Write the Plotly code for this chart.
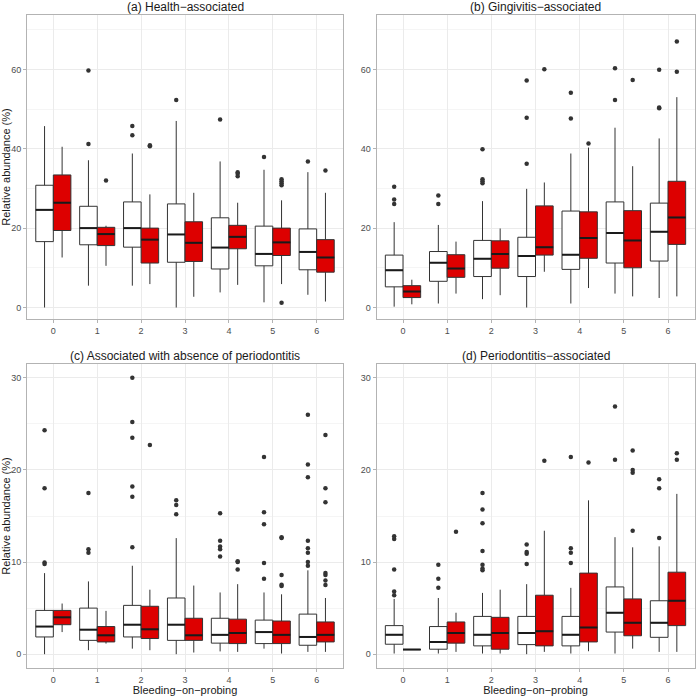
import plotly.graph_objects as go
from plotly.subplots import make_subplots

bop = [0, 1, 2, 3, 4, 5, 6]  ## bleeding-on-probing score

# per score: (lower whisker, q1, median, q3, upper whisker)
a_white = [(0.0, 16.6, 24.6, 30.8, 45.7), (5.5, 15.8, 20.0, 25.5, 37.1), (5.5, 15.2, 20.0, 26.6, 38.8),
           (0.0, 11.4, 18.4, 26.1, 47.0), (3.8, 9.7, 15.1, 22.6, 36.8), (1.3, 10.5, 13.5, 20.5, 34.7),
           (3.2, 9.5, 14.0, 19.8, 34.1)]
a_red = [(12.6, 19.4, 26.4, 33.4, 40.5), (10.5, 15.6, 18.5, 20.2, 20.6), (5.9, 11.2, 17.1, 20.0, 28.5),
         (2.7, 11.6, 16.3, 21.6, 28.9), (5.7, 14.8, 17.8, 20.7, 26.4), (5.9, 13.1, 16.4, 20.0, 27.0),
         (1.5, 8.9, 12.6, 17.1, 28.9)]
a_white_out = [[], [41.2, 59.7], [43.4, 45.7], [52.3], [47.4], [37.9], [36.8]]
a_red_out = [[], [32.0], [40.6, 40.9], [], [33.1, 33.7, 34.1], [1.2, 30.8, 31.3, 31.8, 32.3], [34.5]]

b_white = [(0.2, 5.2, 9.4, 13.2, 21.5), (1.0, 6.6, 11.3, 14.1, 20.8), (2.1, 7.8, 12.3, 16.9, 26.8),
           (0.0, 7.8, 13.0, 17.7, 29.9), (1.0, 9.6, 13.3, 24.3, 38.8), (3.5, 11.2, 18.8, 26.6, 45.3),
           (2.4, 11.7, 19.1, 26.3, 42.6)]
b_red = [(0.8, 2.5, 4.0, 5.5, 7.0), (3.5, 7.6, 9.8, 13.3, 16.6), (3.1, 9.9, 13.5, 16.8, 19.9),
         (9.0, 13.2, 15.2, 25.6, 31.5), (4.9, 12.4, 17.5, 24.1, 40.3), (2.8, 10.0, 16.9, 24.4, 35.6),
         (2.8, 15.9, 22.7, 31.8, 53.0)]
b_white_out = [[26.1, 27.2, 30.4], [26.1, 28.2], [31.3, 31.8, 32.3, 39.9], [36.2, 47.8, 57.2],
               [47.6, 54.1], [52.3, 60.3], [50.2, 50.4, 59.9]]
b_red_out = [[], [], [], [60.0], [41.3], [57.3], [59.4, 67.0]]

c_white = [(0.0, 1.87, 3.0, 4.75, 8.8), (0.43, 1.5, 2.66, 5.0, 7.9), (0.6, 1.87, 3.2, 5.3, 9.6),
           (0.0, 1.5, 3.2, 6.1, 12.6), (0.3, 1.2, 2.1, 3.9, 6.7), (0.6, 1.15, 2.4, 3.7, 6.7),
           (0.25, 0.97, 1.87, 4.35, 9.1)]
c_red = [(2.4, 3.2, 4.0, 4.75, 5.5), (1.15, 1.33, 2.05, 3.0, 4.7), (0.43, 1.7, 2.7, 5.2, 7.0),
         (0.18, 1.5, 2.05, 3.9, 7.45), (0.25, 1.15, 2.3, 3.8, 7.6), (0.07, 1.15, 2.1, 3.6, 6.5),
         (0.25, 1.33, 2.1, 3.5, 6.1)]
c_white_out = [[9.8, 9.96, 18.0, 24.3], [11.0, 11.4, 17.5], [11.6, 17.1, 18.2, 23.5, 25.2, 30.0],
               [15.2, 16.2, 16.7], [10.6, 11.4, 11.7, 12.3, 15.3], [8.2, 9.9, 14.1, 15.4, 21.4],
               [9.6, 10.0, 11.0, 11.5, 12.3, 19.2, 20.6, 26.0]]
c_red_out = [[], [], [22.7], [], [9.2, 10.0, 10.1], [7.4, 7.55, 8.6, 12.6, 12.7],
             [7.5, 8.0, 8.6, 8.8, 16.5, 18.0, 23.8]]

d_white = [(0.07, 1.08, 2.1, 3.1, 6.0), (0.07, 0.54, 1.33, 3.0, 6.1), (0.07, 0.9, 2.1, 4.1, 6.65),
           (0.0, 1.04, 2.3, 4.1, 7.6), (0.07, 0.9, 2.1, 4.1, 7.2), (0.07, 2.4, 4.5, 7.3, 12.7),
           (0.25, 1.83, 3.4, 5.8, 11.7)]
d_red = [(0.5, 0.5, 0.5, 0.5, 0.5), (0.25, 1.2, 2.3, 3.5, 4.5), (0.07, 0.54, 2.3, 4.0, 7.0),
         (0.25, 0.9, 2.5, 6.4, 13.4), (0.32, 1.33, 2.9, 8.8, 16.7), (0.6, 2.0, 3.4, 6.0, 11.6),
         (0.25, 3.1, 5.8, 8.9, 17.4)]
d_white_out = [[6.4, 6.8, 9.2, 12.5, 12.8], [7.2, 8.2, 9.7], [9.1, 9.3, 9.7, 11.2, 14.2, 15.7, 17.5],
               [9.8, 10.9, 11.1, 11.9], [9.9, 11.0, 11.5, 21.4], [21.1, 26.9], [12.6, 18.0, 19.0]]
d_red_out = [[], [13.3], [], [21.0], [20.8], [13.4, 19.7, 20.0, 22.1], [21.1, 21.8]]

titles = ['(a) Health−associated', '(b) Gingivitis−associated',
          '(c) Associated with absence of periodontitis', '(d) Periodontitis−associated']

RED = '#dd0000'
EDGE = '#333333'
DODGE = 0.2
BOXW = 0.4


def add_group(fig, stats, outs, side, fill, row, col):
    xs = [b + side * DODGE for b in bop]
    fig.add_trace(go.Box(x=xs, lowerfence=[s[0] for s in stats], q1=[s[1] for s in stats],
                         median=[s[2] for s in stats], q3=[s[3] for s in stats],
                         upperfence=[s[4] for s in stats], width=BOXW, whiskerwidth=0,
                         fillcolor=fill, line=dict(color=EDGE, width=1), boxpoints=False,
                         showlegend=False, hoverinfo='skip'), row=row, col=col)
    # thicker median bar, like ggplot
    mx, my = [], []
    for x, s in zip(xs, stats):
        mx += [x - BOXW / 2, x + BOXW / 2, None]
        my += [s[2], s[2], None]
    fig.add_trace(go.Scatter(x=mx, y=my, mode='lines', line=dict(color='#1a1a1a', width=2),
                             showlegend=False, hoverinfo='skip'), row=row, col=col)
    ox, oy = [], []
    for x, o in zip(xs, outs):
        ox += [x] * len(o)
        oy += o
    fig.add_trace(go.Scatter(x=ox, y=oy, mode='markers', marker=dict(color=EDGE, size=4.5),
                             showlegend=False, hoverinfo='skip'), row=row, col=col)


fig = make_subplots(rows=2, cols=2)
panels = [(a_white, a_red, a_white_out, a_red_out, 1, 1),
          (b_white, b_red, b_white_out, b_red_out, 1, 2),
          (c_white, c_red, c_white_out, c_red_out, 2, 1),
          (d_white, d_red, d_white_out, d_red_out, 2, 2)]
for w, r, wo, ro, row, col in panels:
    add_group(fig, w, wo, -1, 'white', row, col)
    add_group(fig, r, ro, 1, RED, row, col)

W = 696.0
xdom = [[27 / W, 343 / W], [376.5 / W, 694.5 / W]]
ydom = [[1 - 319 / W, 1 - 15 / W], [1 - 668 / W, 1 - 364 / W]]
tickfont = dict(size=9, color='#4d4d4d')

for i in range(4):
    row, col = i // 2, i % 2
    sfx = '' if i == 0 else str(i + 1)
    top = row == 0
    fig.layout['xaxis' + sfx].update(
        domain=xdom[col], range=[-0.6, 6.6], tickvals=bop, ticks='outside', ticklen=3,
        tickcolor='#b3b3b3', tickfont=tickfont, showgrid=True, gridcolor='#ebebeb', gridwidth=1,
        showline=True, mirror=True, linecolor='#b3b3b3', linewidth=1, zeroline=False,
        title=dict(text='' if top else 'Bleeding−on−probing', font=dict(size=11, color='#1a1a1a'),
                   standoff=2))
    fig.layout['yaxis' + sfx].update(
        domain=ydom[row], range=[-2.9, 73.7] if top else [-1.5, 31.5],
        tickvals=[0, 20, 40, 60] if top else [0, 10, 20, 30], ticks='outside', ticklen=3,
        tickcolor='#b3b3b3', tickfont=tickfont, showgrid=True, gridcolor='#ebebeb', gridwidth=1,
        minor=dict(tickvals=[10, 30, 50, 70] if top else [5, 15, 25], showgrid=True,
                   gridcolor='#f5f5f5', ticks=''),
        showline=True, mirror=True, linecolor='#b3b3b3', linewidth=1, zeroline=False,
        title=dict(text='Relative abundance (%)' if col == 0 else '',
                   font=dict(size=11, color='#1a1a1a'), standoff=4))
    fig.add_annotation(text=titles[i], xref='paper', yref='paper',
                       x=sum(xdom[col]) / 2, y=ydom[row][1], yshift=8, xanchor='center',
                       yanchor='middle', showarrow=False, font=dict(size=12, color='#1a1a1a'))

fig.update_layout(width=696, height=696, margin=dict(l=0, r=0, t=0, b=0),
                  paper_bgcolor='white', plot_bgcolor='white',
                  font=dict(family='Liberation Sans, Arial, sans-serif'))
# page has a default body margin; drop it so the figure sits at the window corner
fig.write_html("out.html", config={'displayModeBar': False},
               post_script="document.body.style.margin='0';document.body.style.overflow='hidden';")
